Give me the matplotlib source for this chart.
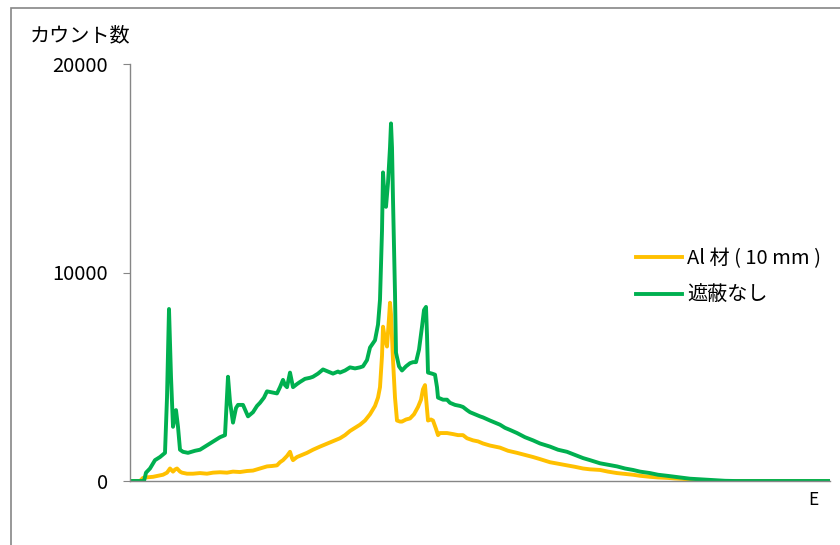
import numpy as np
import matplotlib
matplotlib.use('Agg')
import matplotlib.pyplot as plt
from matplotlib.patches import Rectangle

plt.rcParams['font.family'] = ['Noto Sans CJK JP', 'DejaVu Sans']

# channel positions and counts
ch_green = [0, 14, 16, 20, 25, 30, 35, 37, 39, 41, 43, 46, 48, 50, 53, 58, 65, 70, 75, 80, 85, 90, 95,
            97, 98, 100, 103, 106, 108, 113, 118, 123, 127, 130, 134, 137, 142, 147, 150, 153, 155, 157,
            160, 163, 167, 170, 175, 180, 183, 188, 193, 198, 203, 208, 210, 215, 220, 225, 230, 233, 237,
            240, 245, 248, 250, 252, 253, 255, 256, 258, 260, 261, 262, 263, 265, 266, 269, 272, 276, 280,
            283, 286, 289, 292, 294, 296, 297, 298, 302, 305, 307, 308, 313, 317, 320, 325, 330, 333, 337,
            340, 345, 350, 353, 360, 365, 370, 375, 380, 387, 395, 403, 410, 420, 428, 437, 445, 453, 460,
            470, 478, 487, 495, 503, 510, 520, 528, 537, 545, 553, 560, 570, 580, 587, 595, 605, 700]
green = [0, 0, 400, 600, 1000, 1150, 1350, 4000, 8250, 5000, 2600, 3400, 2600, 1500, 1400, 1350, 1450,
         1500, 1650, 1800, 1950, 2100, 2200, 4000, 5000, 3800, 2800, 3500, 3650, 3650, 3100, 3300, 3600,
         3750, 4000, 4300, 4250, 4200, 4500, 4850, 4600, 4500, 5200, 4500, 4650, 4750, 4900, 4950, 5000,
         5150, 5350, 5250, 5150, 5250, 5200, 5300, 5450, 5400, 5450, 5500, 5800, 6400, 6750, 7500, 8700,
         12000, 14800, 13200, 13150, 14300, 16000, 17150, 16000, 13500, 9000, 6150, 5500, 5300, 5500,
         5650, 5700, 5700, 6300, 7400, 8200, 8350, 7000, 5200, 5150, 5100, 4500, 4000, 3900, 3900, 3750,
         3650, 3600, 3550, 3400, 3300, 3200, 3100, 3050, 2900, 2800, 2700, 2550, 2450, 2300, 2100, 1950,
         1800, 1650, 1500, 1400, 1250, 1100, 1000, 850, 780, 700, 600, 530, 450, 380, 300, 250, 200, 150,
         110, 80, 50, 30, 10, 0, 0]

ch_al = [0, 10, 13, 18, 23, 28, 33, 37, 40, 43, 45, 47, 50, 52, 57, 63, 70, 77, 83, 90, 97, 103, 110,
         117, 123, 130, 137, 142, 147, 150, 153, 157, 160, 162, 163, 167, 172, 177, 183, 190, 195, 200,
         205, 210, 215, 220, 225, 230, 235, 240, 245, 248, 250, 252, 253, 255, 257, 259, 260, 261, 263,
         265, 267, 270, 272, 276, 280, 284, 288, 291, 293, 295, 296, 298, 301, 303, 306, 308, 310, 317,
         323, 328, 333, 337, 343, 348, 353, 360, 365, 370, 378, 387, 395, 403, 410, 420, 428, 437, 445,
         453, 460, 470, 478, 487, 495, 503, 510, 520, 528, 537, 545, 553, 560, 570, 580, 605, 700]
al = [0, 0, 150, 180, 200, 250, 300, 400, 600, 450, 550, 600, 450, 400, 350, 350, 380, 350, 400, 420,
      400, 450, 430, 480, 500, 600, 700, 720, 750, 900, 1000, 1200, 1400, 1100, 1000, 1150, 1250, 1350,
      1500, 1650, 1750, 1850, 1950, 2050, 2200, 2400, 2550, 2700, 2900, 3200, 3600, 4000, 4500, 6000,
      7400, 6800, 6450, 7800, 8550, 8000, 5800, 4000, 2900, 2850, 2850, 2950, 3000, 3200, 3550, 3900,
      4400, 4600, 4000, 2900, 2950, 2900, 2500, 2200, 2300, 2300, 2250, 2200, 2200, 2050, 1950, 1900,
      1800, 1700, 1650, 1600, 1450, 1350, 1250, 1150, 1050, 900, 830, 750, 680, 600, 560, 530, 450, 380,
      340, 300, 250, 200, 170, 150, 120, 100, 60, 20, 0, 0, 0]

y_ticks = [0, 10000, 20000]
labels = ['Al 材 ( 10 mm )', '遮蔽なし']

fig = plt.figure(figsize=(8.4, 5.45), dpi=100)
ax = fig.add_axes([130/840, 1 - 481/545, 700/840, (481 - 64)/545])

ax.plot(ch_al, al, color='#FFC000', lw=2.8, label=labels[0], solid_joinstyle='round')
ax.plot(ch_green, green, color='#00B050', lw=2.8, label=labels[1], solid_joinstyle='round')

ax.set_xlim(0, 700)
ax.set_ylim(0, 20000)
ax.set_yticks(y_ticks)
ax.set_yticklabels([str(v) for v in y_ticks], fontsize=14.5)
ax.set_xticks([])
ax.tick_params(axis='y', direction='out', length=5, color='#868686', pad=11)
for s in ['top', 'right']:
    ax.spines[s].set_visible(False)
for s in ['left', 'bottom']:
    ax.spines[s].set_color('#868686')
    ax.spines[s].set_linewidth(1)

fig.text(30/840, 1 - 36/545, 'カウント数', fontsize=14.5, va='center', ha='left')
fig.text(813/840, 1 - 500/545, 'E', fontsize=12.5, va='center', ha='center')

ax.legend(loc='center left', bbox_to_anchor=(618/840, 1 - 277/545), bbox_transform=fig.transFigure,
          frameon=False, fontsize=14.5, handlelength=2.3, handletextpad=0.25, labelspacing=0.8)

fig.patches.append(Rectangle((11/840, -0.1), 2, 1.1 - 8/545, transform=fig.transFigure,
                             fill=False, edgecolor='#868686', lw=1.2))

fig.savefig('out.png', dpi=100)
